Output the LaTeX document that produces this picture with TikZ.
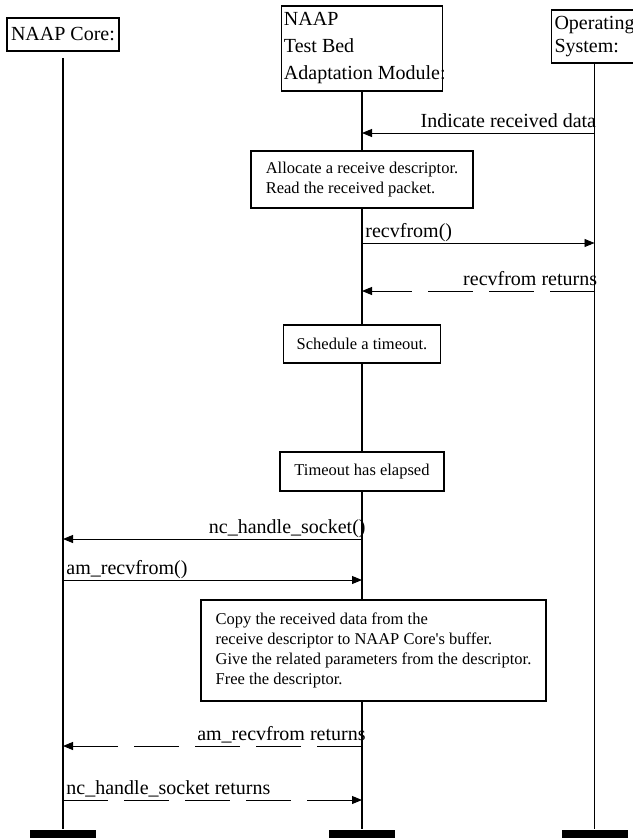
\documentclass[tikz,border=0pt]{standalone}
\usepackage{fontspec}
\setmainfont{Liberation Serif}
\usetikzlibrary{arrows.meta}

\tikzset{
	head/.style={draw, line width=1.5pt, fill=white, align=left, inner xsep=3pt, font=\fontsize{20}{27}\selectfont},
	act/.style={draw, line width=1.5pt, fill=white, align=left, inner xsep=11pt, font=\fontsize{16.5}{20}\selectfont},
	life/.style={line width=1.5pt},
	endbar/.style={fill=black, inner sep=0pt, minimum width=66pt, minimum height=9pt},
	msg/.style={line width=0.9pt, -{Triangle[length=10pt,width=8pt]}},
	reply/.style={msg, dash pattern=on 45pt off 16pt},
	lbl/.style={inner sep=0pt, font=\fontsize{20}{24}\selectfont}
}

\begin{document}
\begin{tikzpicture}[x=1pt, y=-1pt]
	\useasboundingbox (0,0) rectangle (632,838);

	\node[endbar] (coreEnd) at (63,834) {};
	\node[endbar] (tbamEnd) at (362,834) {};
	\node[endbar] (osEnd) at (594.5,834) {};

	\node[head, minimum width=112pt, minimum height=33pt] (core) at (63,34.5) {NAAP Core:};
	\node[head, minimum width=161pt, minimum height=85pt, inner xsep=1pt] (tbam) at (362,48.5) {NAAP\\Test Bed\\Adaptation Module\rlap{:}};
	\node[head, font=\fontsize{20}{23}\selectfont, minimum height=53pt] (os) at (594.5,36.5) {Operating\\System:};

	\draw[life, shorten <=6pt] (core.south) -- (coreEnd.north);
	\draw[life] (tbam.south) -- (tbamEnd.north);
	\draw[life] (os.south) -- (osEnd.north);

	\draw[msg] (os.south |- 0,133) -- node[lbl, pos=0, anchor=base east, xshift=2pt, yshift=6pt] {Indicate received data} (tbam.south |- 0,133);
	\node[act, minimum width=222pt, minimum height=57pt] (alloc) at (362,179.5) {Allocate a receive descriptor.\\Read the received packet.};
	\draw[msg] (tbam.south |- 0,243) -- node[lbl, pos=0, anchor=base west, xshift=3pt, yshift=6pt] {recvfrom()} (os.south |- 0,243);
	\draw[reply] (os.south |- 0,291) -- node[lbl, pos=0, anchor=base east, xshift=3pt, yshift=6pt] {recvfrom returns} (tbam.south |- 0,291);

	\node[act, minimum width=157pt, minimum height=38pt] (sched) at (362,344) {Schedule a timeout.};
	\node[act, minimum width=164pt, minimum height=39pt] (elapsed) at (362,471.5) {Timeout has elapsed};

	\draw[msg] (tbam.south |- 0,539) -- node[lbl, pos=0, anchor=base east, xshift=4pt, yshift=6pt] {nc\_handle\_socket()} (core.south |- 0,539);
	\draw[msg] (core.south |- 0,580) -- node[lbl, pos=0, anchor=base west, xshift=3pt, yshift=6pt] {am\_recvfrom()} (tbam.south |- 0,580);

	\node[act, minimum width=345pt, minimum height=101pt] (copy) at (373.5,650.5) {Copy the received data from the\\receive descriptor to NAAP Core\textquotesingle s buffer.\\Give the related parameters from the descriptor.\\Free the descriptor.};

	\draw[reply] (tbam.south |- 0,746) -- node[lbl, pos=0, anchor=base east, xshift=4pt, yshift=6pt] {am\_recvfrom returns} (core.south |- 0,746);
	\draw[reply] (core.south |- 0,800) -- node[lbl, pos=0, anchor=base west, xshift=3pt, yshift=6pt] {nc\_handle\_socket returns} (tbam.south |- 0,800);
\end{tikzpicture}
\end{document}
